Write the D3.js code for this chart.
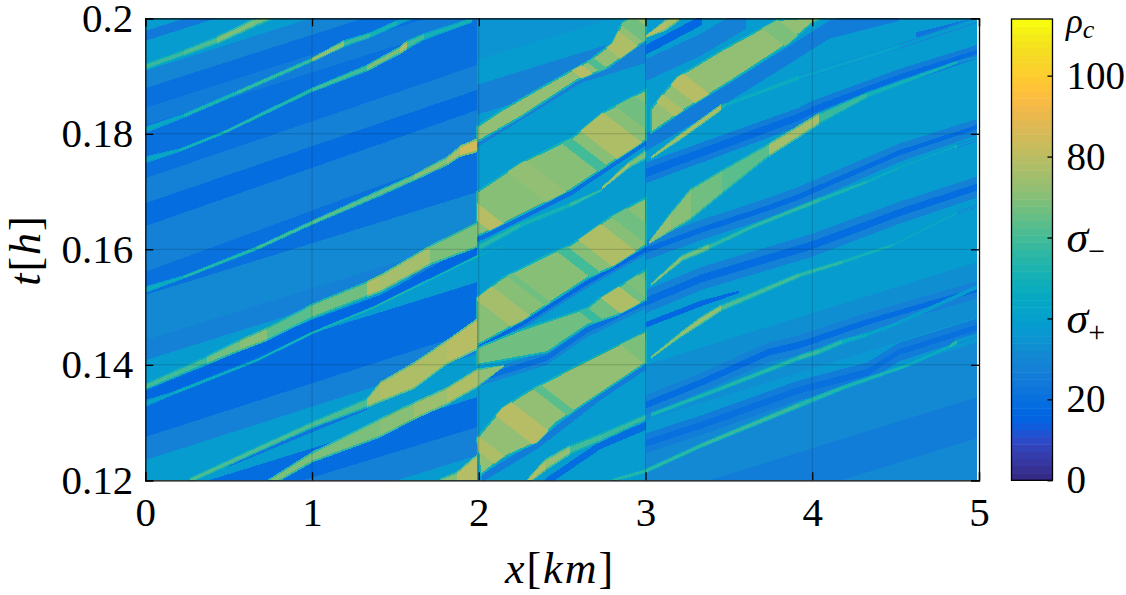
<!DOCTYPE html>
<html>
<head>
<meta http-equiv="Content-Type" content="text/html;charset=utf-8"/>
<title>rho_c density over x and t</title>
<script src="https://d3js.org/d3.v7.min.js"></script>
<style type="text/css">
	html, body { margin: 0; padding: 0; background: #fff; }
	svg { display: block; }
	text { font-family: "Liberation Serif", serif; fill: #000; }
	.axis path, .axis line { stroke: #000; stroke-width: 1.3; }
	.axis text { font-size: 41px; font-family: "Liberation Serif", serif; }
	.grid line { stroke: #000; stroke-opacity: 0.18; stroke-width: 1; }
	.heat path { shape-rendering: crispEdges; }
</style>
</head>
<body>
<svg width="1126" height="595"></svg>

<script type="text/javascript">
// axis values
const xTicks = [0, 1, 2, 3, 4, 5];
const tTicks = [0.12, 0.14, 0.16, 0.18, 0.2];
const cbTicks = [0, 20, 40, 60, 80, 100];
const cbLabels = ["0", "20", ["σ", "+"], ["σ", "−"], "80", "100"];
const rhoMax = 114;

// density of the background bands, edges are t at both ends of the road section
const bandSlope = 0.00895;  // h per km
const leftEdges0 = [.2032,.1978,.1961,.1909,.1879,.1845,.1815,.1755,.1723,.168,.164,.1561,.1521,.1443,.1408,.1365,.1275,.1235,.1166,.1117,.1065,.0923];
const leftEdges2 = [.2222,.2162,.2144,.2092,.2063,.2028,.1997,.1933,.1919,.1876,.1841,.1772,.1699,.1621,.1587,.1543,.146,.1419,.1344,.1292,.1243,.1096];
const leftRho = [39,24,39,30,20,25,20,20,27,18,28,20,32,27,39,18,27,39,18,27,39];
const midEdges = [.2000,.1928,.1885,.1833,.1097];
const midRho = [34,39,28,39];
const rightEdges = [.2000,.1400,.1304,.1261,.1166,.1095,.0906];
const rightRho = [39,33,36,31,26,32];

// dark patch between two waves, as [x, t]
const patchDark = [[0,.1353],[1,.1478],[1.41,.1521],[1.71,.1568],[1.99,.1613],[1.99,.1589],[1.36,.1498],[1,.1455],[0,.1334]];

// wakes: rows of [x, t, thickness, rho]
const wakeW7 = [[.5,.1226,.0006,24],[1,.1286,.0006,22],[1.33,.1325,.0006,22]];
const wakeB4halo = [[1.99,.1431,.0017,28],[2.25,.1469,.0017,28],[2.65,.1542,.0017,28],[3,.1599,.0017,28]];
const wakeB4 = [[1.99,.1431,.0007,17],[2.25,.1469,.0007,17],[2.65,.1542,.0007,17],[3,.1599,.0007,17]];
const wakeB3halo = [[1.99,.1374,.0024,30],[2.41,.1412,.0024,30],[2.65,.1460,.0024,30],[3,.1509,.0024,30]];
const wakeB3 = [[1.99,.1374,.001,20],[2.41,.1412,.001,20],[2.65,.1460,.001,20],[3,.1509,.001,20]];
const wakeB1 = [[1.99,.1617,.0009,20],[2.07,.1628,.0009,20],[2.55,.1697,.0009,20],[3,.1784,.0009,20]];
const wakeB2 = [[1.99,.1781,.0009,28],[2.59,.1888,.0009,28],[3,.1957,.0009,28]];
const wakeB5 = [[2.02,.1204,.0014,25],[2.35,.1261,.0014,25],[2.74,.1348,.0014,25],[3,.1398,.0014,25]];
const wakeW10 = [[2.4,.1196,.0014,18],[2.73,.1261,.0014,18],[3,.1294,.0014,18]];
const wakeR1halo = [[3,.1910,.0038,28],[3.33,.1954,.0038,28],[3.6,.2000,.0038,28]];
const wakeR1 = [[3,.1945,.0017,17],[3.34,.1997,.0017,17]];
const wakeR2 = [[3,.1785,.0031,26],[3.33,.1841,.0031,26],[3.86,.1936,.0031,26],[4.1,.198,.0031,26],[4.52,.2011,.0031,26]];
const wakeR3halo = [[3,.1732,.0036,25],[3.54,.1789,.0034,25],[3.92,.1829,.0032,25],[4,.1841,.0032,25],[4.52,.1898,.0028,25],[4.99,.1942,.0024,25]];
const wakeR3 = [[3,.1732,.0015,18],[3.54,.1789,.0014,18],[3.92,.1829,.0013,18],[4,.1841,.0012,18],[4.52,.1898,.0009,18],[4.99,.1942,.0007,18]];
const wakeTop = [[4.62,.1971,.0009,22],[4.99,.1997,.0009,22]];
const wakeR4halo = [[3,.1598,.0035,28],[3.34,.1634,.0035,28],[3.74,.1672,.0035,28],[3.92,.1691,.0035,28],[4.52,.1767,.0032,28],[4.99,.1812,.0028,28]];
const wakeR4 = [[3,.1598,.001,18],[3.34,.1634,.001,18],[3.74,.1672,.001,18],[3.92,.1691,.001,18],[4.52,.1767,.0009,18],[4.99,.1812,.0007,18]];
const wakeR5halo = [[3,.1509,.004,27],[3.34,.155,.004,27],[4,.1607,.004,27],[4.52,.1663,.0038,27],[4.99,.1708,.0036,27]];
const wakeR5 = [[3,.1509,.0014,19],[3.34,.155,.0014,19],[4,.1607,.0014,19],[4.52,.1663,.0013,19],[4.99,.1708,.0012,19]];
const wakeR6 = [[3,.1469,.001,17],[3.34,.1507,.001,17],[3.56,.1526,.0004,17]];
const wakeR7halo = [[3,.1330,.0034,27],[3.34,.1370,.0034,27],[3.74,.1422,.0034,27],[3.92,.1434,.0034,27],[4.33,.1474,.0032,27],[4.99,.1530,.003,27]];
const wakeR7 = [[3,.1330,.0012,19],[3.34,.1370,.0012,19],[3.74,.1422,.0012,19],[3.92,.1434,.0012,19],[4.33,.1474,.001,19],[4.99,.1530,.0008,19]];
const wakeR8halo = [[3,.1264,.0034,26],[3.34,.1296,.0034,26],[3.92,.1356,.0034,26],[4.33,.1387,.0034,26],[4.52,.1422,.0032,26],[4.99,.1465,.003,26]];
const wakeR8 = [[3,.1264,.0012,20],[3.34,.1296,.0012,20],[3.92,.1356,.0012,20],[4.33,.1387,.0012,20],[4.52,.1422,.001,20],[4.99,.1465,.001,20]];
const streakTeal = [[4.42,.146,.0007,38],[4.99,.1535,.0007,38]];

// waves: rows of [x, t, thickness, rho]
const wave1 = [[0,.1916,.0012,52],[.23,.1940,.0012,58],[.43,.1962,.0014,62],[.65,.1992,.0016,68],[.78,.2007,.0014,66]];
const wave2 = [[0,.1807,.0012,45],[.23,.1831,.0008,45],[.55,.1871,.0008,52],[1,.1928,.0008,58],[1.19,.1956,.0012,72],[1.35,.1971,.001,58],[1.51,.1992,.001,50],[1.6,.2002,.0008,42]];
const wave3 = [[0,.1755,.0012,42],[.21,.1772,.0006,45],[.47,.1802,.0006,50],[1,.1876,.0008,55],[1.33,.1914,.0012,60],[1.53,.1945,.0014,68],[1.57,.1954,.0016,78],[1.67,.1968,.0012,60],[1.96,.1997,.0009,50]];
const wave4 = [[0,.1530,.0012,42],[.23,.1552,.0006,47],[.67,.1602,.0007,55],[1,.1646,.0008,60],[1.41,.1698,.0012,63],[1.61,.1724,.0012,65],[1.81,.1753,.0016,70],[1.89,.177,.002,76],[1.99,.178,.0024,84]];
const wave5 = [[0,.1362,.0012,58],[.37,.1408,.0016,60],[.57,.1434,.0021,66],[.73,.1453,.0024,70],[1,.1493,.0026,64],[1.33,.1531,.0028,66],[1.41,.1541,.0031,78],[1.71,.159,.0035,76],[1.99,.1625,.0045,68]];
const wave6 = [[0,.1333,.0012,40],[.17,.1351,.0006,42],[.67,.1408,.0005,48],[1,.1455,.0005,50],[1.36,.1498,.0005,50],[1.67,.1542,.0005,52],[2,.1589,.0005,50],[2.15,.1606,.0004,45]];
const wave7 = [[.27,.12,.001,60],[.67,.1253,.0011,62],[1,.1296,.0012,62],[1.33,.1334,.0018,62],[1.41,.1353,.0036,76],[1.61,.1381,.0047,78],[1.81,.1422,.0043,78],[1.99,.1453,.0055,80]];
const wave8 = [[.7,.1188,.0014,66],[1,.124,.0019,68],[1.41,.1291,.0034,68],[1.61,.132,.0031,70],[1.81,.1346,.0031,74],[1.99,.1377,.0033,78],[2.15,.1398,.0003,72]];
const wave9 = [[1.77,.1195,.0017,78],[1.87,.12,.003,70],[1.99,.122,.005,80]];
const wave10 = [[2.29,.1197,.001,80],[2.4,.1227,.0021,78],[2.55,.1253,.0017,72],[2.73,.1274,.0016,60],[3,.1309,.0012,58]];
const wave11 = [[3.03,.1313,.0009,52],[3.46,.136,.0009,52],[3.92,.1412,.001,55],[4.04,.1423,.0011,58],[4.18,.144,.001,55],[4.33,.1452,.0007,48],[4.52,.1473,.0005,44]];
const wave12 = [[2.8,.12,.0007,52],[3,.1216,.0009,54],[3.34,.1261,.0009,56],[3.92,.133,.0011,58],[4.18,.136,.0009,55],[4.58,.14,.0007,52],[4.82,.1431,.0006,48],[4.87,.144,.0011,55],[4.99,.1452,.0006,38]];
const wave13 = [[3.03,.1538,.0005,62],[3.22,.1585,.0012,70],[3.38,.1604,.0012,66],[3.64,.1639,.0009,56],[4.04,.1685,.001,56],[4.33,.1717,.0007,52],[4.52,.1741,.0005,48],[4.85,.1777,.0005,45],[4.87,.1779,.0008,50],[4.99,.179,.0006,36]];
const wave14 = [[3.02,.1611,.0005,60],[3.15,.1647,.0033,72],[3.27,.1678,.0055,70],[3.46,.1717,.0043,66],[3.74,.1772,.0024,64],[4.04,.1826,.0021,76],[4.33,.1867,.0011,58],[4.87,.1924,.0005,50],[4.99,.1933,.0005,36]];
const wave16 = [[3.03,.1758,.0005,55],[3.2,.1793,.0011,74],[3.45,.1845,.0012,78],[3.48,.185,.0007,52],[3.92,.1897,.0011,48],[4.52,.1951,.0009,42],[4.99,.1997,.0011,38]];
const wave17 = [[2,.1603,.0015,58],[2.25,.1642,.0012,55],[2.55,.1677,.001,50],[2.74,.1703,.0005,58]];
const wave19 = [[3.03,.1412,.0005,55],[3.21,.1452,.001,70],[3.34,.1478,.0014,74],[3.45,.1498,.0012,72],[3.57,.1512,.0012,62],[3.92,.1555,.001,60],[4.18,.1578,.0009,56],[4.48,.1607,.0006,50],[4.87,.1663,.0006,46],[4.99,.1675,.0005,36]];
const waveTop = [[3,.1968,.0004,60],[3.12,.1988,.002,80],[3.2,.2002,.0015,76]];
const waveS1 = [[2.74,.1706,.0005,70],[2.9,.1746,.0012,76],[3,.1764,.0017,68]];

// congested blocks: outline as [x, t], base rho, stripes as [x, t, half width, rho]
const blockB1 = [[1.99,.1699],[2.25,.1749],[2.56,.1793],[2.74,.1836],[3,.1876],[3,.1789],[2.79,.1749],[2.55,.1703],[2.07,.1633],[1.99,.1623]];
const stripesB1 = [[2.74,.1807,.14,78],[2.62,.1767,.05,60],[2.95,.1841,.1,66],[2.05,.1651,.07,80],[2.35,.1716,.1,72]];
const blockB2 = [[1.99,.1812],[2.14,.1841],[2.35,.1876],[2.56,.1910],[2.67,.1928],[2.8,.1957],[2.86,.1992],[2.92,.2002],[3,.2002],[3,.1962],[2.77,.1914],[2.59,.1893],[2.25,.1829],[1.99,.1786]];
const stripesB2 = [[2.62,.1907,.05,80],[2.69,.1923,.035,62],[2.83,.1957,.1,78],[2.96,.198,.07,66]];
const blockB3 = [[1.99,.1429],[2.25,.146],[2.65,.1498],[2.71,.1512],[3,.1564],[3,.1512],[2.83,.1486],[2.65,.1469],[2.41,.1422],[1.99,.14]];
const stripesB3 = [[2.67,.1486,.04,58],[2.83,.1516,.1,78],[2.97,.1538,.07,68]];
const blockB4 = [[1.99,.1516],[2.14,.155],[2.41,.159],[2.55,.1607],[2.79,.1656],[3,.1689],[3,.1607],[2.79,.1568],[2.65,.155],[2.27,.1478],[1.99,.1434]];
const stripesB4 = [[2.15,.1498,.1,76],[2.29,.1533,.03,66],[2.6,.1578,.05,60],[2.79,.1602,.13,78],[2.95,.1639,.08,66]];
const blockB5 = [[1.99,.1273],[2.14,.1325],[2.29,.1353],[2.56,.1394],[3,.1457],[3,.1403],[2.74,.1353],[2.47,.1301],[2.35,.1266],[2.14,.1239],[2.01,.1209]];
const stripesB5 = [[2.25,.1301,.1,80],[2.03,.1256,.06,78],[2.41,.1348,.04,64],[2.95,.1434,.1,68]];
const blockB6 = [[3.03,.1841],[3.09,.1864],[3.19,.1898],[3.46,.1945],[3.79,.1997],[4.03,.2002],[4.08,.2002],[4,.1992],[3.86,.1957],[3.52,.1893],[3.25,.1845],[3.03,.1801]];
const stripesB6 = [[3.25,.1881,.08,80],[3.15,.1847,.05,78],[3.79,.198,.08,68]];

const wakes = [wakeW7, wakeB4halo, wakeB3halo, wakeB4, wakeB3, wakeB1, wakeB2, wakeB5, wakeW10, wakeR1halo, wakeR1, wakeR2, wakeR3halo, wakeR3, wakeTop, wakeR4halo, wakeR4, wakeR5halo, wakeR5, wakeR6, wakeR7halo, wakeR7, wakeR8halo, wakeR8, streakTeal];
const waves = [wave1, wave2, wave3, wave4, wave5, wave6, wave7, wave8, wave9, wave10, wave11, wave12, wave13, wave14, wave16, wave17, wave19, waveTop, waveS1];
const blocks = [[blockB1, stripesB1, 70], [blockB2, stripesB2, 72], [blockB3, stripesB3, 66], [blockB4, stripesB4, 70], [blockB5, stripesB5, 72], [blockB6, stripesB6, 72]];

// matlab parula
const parula = [[.2081,.1663,.5292],[.2116,.1898,.5777],[.2123,.2138,.6270],[.2081,.2386,.6771],[.1959,.2645,.7279],[.1707,.2919,.7792],[.1253,.3242,.8303],[.0591,.3598,.8683],[.0117,.3875,.8820],[.0060,.4086,.8828],[.0165,.4266,.8786],[.0329,.4430,.8720],[.0498,.4586,.8641],[.0629,.4737,.8554],[.0723,.4887,.8467],[.0779,.5040,.8384],[.0793,.5200,.8312],[.0749,.5375,.8263],[.0641,.5570,.8240],[.0488,.5772,.8228],[.0343,.5966,.8199],[.0265,.6137,.8135],[.0239,.6287,.8038],[.0231,.6418,.7913],[.0228,.6535,.7768],[.0267,.6642,.7607],[.0384,.6743,.7436],[.0590,.6838,.7254],[.0843,.6928,.7062],[.1133,.7015,.6859],[.1453,.7098,.6646],[.1801,.7177,.6424],[.2178,.7250,.6193],[.2586,.7317,.5954],[.3022,.7376,.5712],[.3482,.7424,.5473],[.3953,.7459,.5244],[.4420,.7481,.5033],[.4871,.7491,.4840],[.5300,.7491,.4661],[.5709,.7485,.4494],[.6099,.7473,.4337],[.6473,.7456,.4188],[.6834,.7435,.4044],[.7184,.7411,.3905],[.7525,.7384,.3768],[.7858,.7356,.3633],[.8185,.7327,.3498],[.8507,.7299,.3360],[.8824,.7274,.3217],[.9139,.7258,.3063],[.9450,.7261,.2886],[.9739,.7314,.2666],[.9938,.7455,.2403],[.9990,.7653,.2164],[.9955,.7861,.1967],[.9880,.8066,.1794],[.9789,.8271,.1633],[.9697,.8481,.1475],[.9626,.8705,.1309],[.9589,.8949,.1132],[.9598,.9218,.0948],[.9661,.9514,.0755],[.9763,.9831,.0538]];
const parulaHex = parula.map(c => d3.rgb(c[0] * 255, c[1] * 255, c[2] * 255).formatHex());

const svg = d3.select("svg");
const x = d3.scaleLinear().domain([0, 5]).range([145.3, 979]);
const y = d3.scaleLinear().domain([0.12, 0.2]).range([480.3, 18.3]);
const color = d3.scaleQuantize().domain([0, rhoMax]).range(parulaHex);
const cbY = d3.scaleLinear().domain([0, rhoMax]).range([480.3, 19]);

const path = d3.line().x(d => x(d[0])).y(d => y(d[1]));

svg.append("defs").append("clipPath").attr("id", "plotClip").append("rect")
	.attr("x", x(0.004)).attr("y", y(0.2)).attr("width", x(4.988) - x(0.004)).attr("height", y(0.12) - y(0.2));

const heat = svg.append("g").attr("class", "heat").attr("clip-path", "url(#plotClip)");

// background bands of one road section
function drawBands(x0, x1, edges0, edges1, rho) {
	rho.forEach((r, i) => {
		heat.append("path")
			.attr("d", path([[x0, edges0[i]], [x1, edges1[i]], [x1, edges1[i + 1]], [x0, edges0[i + 1]]]) + "Z")
			.attr("fill", color(r));
	});
}

function drawRows(g, rows, widthOf, rhoOf) {
	d3.pairs(rows).forEach(([a, b]) => {
		const wa = widthOf(a[2]) / 2, wb = widthOf(b[2]) / 2;
		g.append("path")
			.attr("d", path([[a[0], a[1] + wa], [b[0], b[1] + wb], [b[0], b[1] - wb], [a[0], a[1] - wa]]) + "Z")
			.attr("fill", color(rhoOf(b)));
	});
}

drawBands(0, 1.99, leftEdges0, leftEdges2, leftRho);
drawBands(1.99, 3, midEdges, midEdges.map(t => t + bandSlope), midRho);
drawBands(3, 5, rightEdges, rightEdges.map(t => t + 2 * bandSlope), rightRho);

heat.append("path").attr("d", path(patchDark) + "Z").attr("fill", color(17));

wakes.forEach(w => drawRows(heat, w, d => d, d => d[3]));

blocks.forEach(([outline, stripes, base], i) => {
	heat.append("path").attr("d", path(outline) + "Z").attr("fill", color(base))
		.attr("stroke", color(50)).attr("stroke-width", 2);
	const id = "block" + i;
	svg.select("defs").append("clipPath").attr("id", id).append("path").attr("d", path(outline) + "Z");
	const g = heat.append("g").attr("clip-path", `url(#${id})`);
	stripes.forEach(s => {
		const k = 45, dt = 0.012;  // backward moving stripes, km per h
		g.append("path")
			.attr("d", path([[s[0] - s[2] - k * dt, s[1] + dt], [s[0] + s[2] - k * dt, s[1] + dt], [s[0] + s[2] + k * dt, s[1] - dt], [s[0] - s[2] + k * dt, s[1] - dt]]) + "Z")
			.attr("fill", color(s[3]));
	});
});

waves.forEach(w => {
	drawRows(heat, w, d => d, d => d[3] * 0.82);
	drawRows(heat, w, d => Math.max(d * 0.55, d - 0.0007), d => d[3]);
});

// grid over the image
const grid = svg.append("g").attr("class", "grid");
grid.selectAll(".gx").data(xTicks.slice(1, -1)).enter().append("line")
	.attr("x1", d => x(d)).attr("x2", d => x(d)).attr("y1", y(0.12)).attr("y2", y(0.2));
grid.selectAll(".gt").data(tTicks.slice(1, -1)).enter().append("line")
	.attr("x1", x(0)).attr("x2", x(5)).attr("y1", d => y(d)).attr("y2", d => y(d));

// axes, ticks point inwards on all four sides
const noLabel = () => "";
svg.append("g").attr("class", "axis").attr("transform", `translate(0,${y(0.12)})`)
	.call(d3.axisBottom(x).tickValues(xTicks).tickSizeOuter(0).tickSize(-8).tickPadding(17).tickFormat(d3.format("d")));
svg.append("g").attr("class", "axis").attr("transform", `translate(0,${y(0.2)})`)
	.call(d3.axisTop(x).tickValues(xTicks).tickSizeOuter(0).tickSize(-8).tickFormat(noLabel));
svg.append("g").attr("class", "axis").attr("transform", `translate(${x(0)},0)`)
	.call(d3.axisLeft(y).tickValues(tTicks).tickSizeOuter(0).tickSize(-8).tickPadding(12).tickFormat(d => d === 0.2 ? "0.2" : d3.format(".2f")(d)));
svg.append("g").attr("class", "axis").attr("transform", `translate(${x(5)},0)`)
	.call(d3.axisRight(y).tickValues(tTicks).tickSizeOuter(0).tickSize(-8).tickFormat(noLabel));

// colorbar
const cb = svg.append("g");
const cbX0 = 1011.5, cbX1 = 1052.5;
parulaHex.forEach((c, i) => {
	cb.append("rect").attr("x", cbX0).attr("width", cbX1 - cbX0)
		.attr("y", cbY((i + 1) * rhoMax / 64)).attr("height", cbY(i * rhoMax / 64) - cbY((i + 1) * rhoMax / 64) + 0.5)
		.attr("fill", c);
});
cb.append("rect").attr("x", cbX0).attr("y", cbY(rhoMax)).attr("width", cbX1 - cbX0).attr("height", cbY(0) - cbY(rhoMax))
	.attr("fill", "none").attr("stroke", "#000").attr("stroke-width", 1.3);

const cbAxis = svg.append("g").attr("class", "axis").attr("transform", `translate(${cbX1},0)`)
	.call(d3.axisRight(cbY).tickValues(cbTicks).tickSizeOuter(0).tickSize(-5).tickPadding(14).tickFormat((d, i) => typeof cbLabels[i] === "string" ? cbLabels[i] : ""));
cbAxis.select("path").remove();

cbAxis.selectAll(".tick text").style("font-size", "39px").each(function(d, i) {
	if (typeof cbLabels[i] === "string") return;
	const t = d3.select(this).style("font-size", "44px");
	t.append("tspan").attr("font-style", "italic").text(cbLabels[i][0]);
	t.append("tspan").style("font-size", "30px").attr("dy", 9).text(cbLabels[i][1]);
});
const rhoLabel = svg.append("text").attr("x", 1066).attr("y", 33).attr("font-size", 35);
rhoLabel.append("tspan").attr("font-style", "italic").text("ρ");
rhoLabel.append("tspan").attr("font-style", "italic").attr("font-size", 26).attr("dy", 5).text("c");

// axis titles
const xLabel = svg.append("text").attr("x", 560).attr("y", 583).attr("text-anchor", "middle")
	.attr("font-size", 44).attr("letter-spacing", 2);
xLabel.append("tspan").attr("font-style", "italic").text("x");
xLabel.append("tspan").text("[");
xLabel.append("tspan").attr("font-style", "italic").text("km");
xLabel.append("tspan").text("]");

const tLabel = svg.append("text").attr("transform", "translate(40,250) rotate(-90)").attr("text-anchor", "middle")
	.attr("font-size", 44).attr("letter-spacing", 2);
tLabel.append("tspan").attr("font-style", "italic").text("t");
tLabel.append("tspan").text("[");
tLabel.append("tspan").attr("font-style", "italic").text("h");
tLabel.append("tspan").text("]");
</script>
</body>
</html>
